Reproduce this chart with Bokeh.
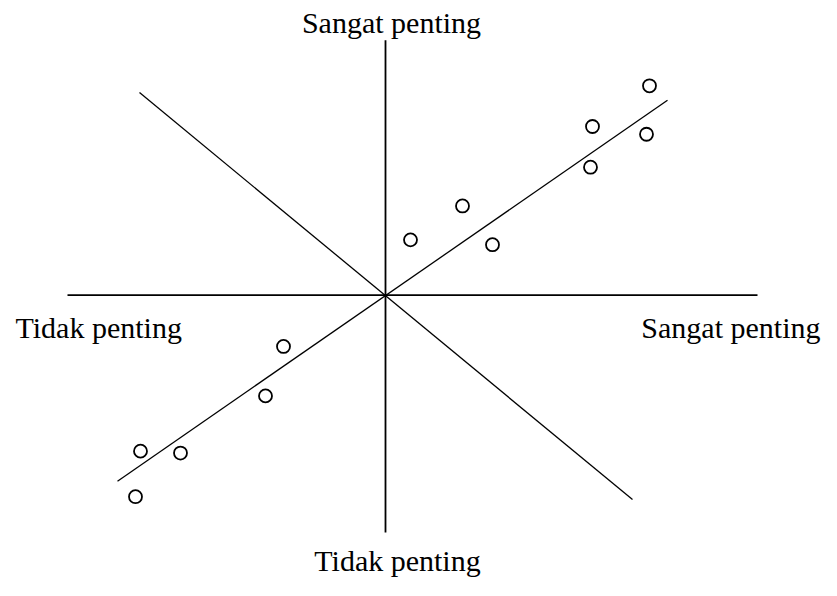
from bokeh.plotting import figure
from bokeh.models import Range1d
from bokeh.embed import file_html
from bokeh.resources import INLINE
from bokeh.core.properties import value

# Data (arbitrary importance units, origin at the crossing of the axes)
pts_x = [26.4, 20.7, 26.1, 20.5, 7.7, 2.5, 10.7, -10.2, -12.0, -24.5, -20.5, -25.0]
pts_y = [21.6, 17.4, 16.6, 13.2, 9.2, 5.7, 5.2, -5.3, -10.4, -16.1, -16.3, -20.8]

fit_x = [-26.8, 28.2]
fit_y = [-19.2, 20.1]

anti_x = [-24.6, 24.7]
anti_y = [20.9, -21.1]

haxis_x = [-31.8, 37.2]
vaxis_y = [-24.5, 26.3]

label_top = "Sangat penting"
label_bottom = "Tidak penting"
label_left = "Tidak penting"
label_right = "Sangat penting"

p = figure(width=821, height=580, output_backend="svg", toolbar_location=None,
           x_range=Range1d(-38.5, 43.6), y_range=Range1d(-29.45, 30.4),
           min_border=0, outline_line_color=None)
p.axis.visible = False
p.grid.visible = False
p.background_fill_color = "white"
p.border_fill_color = "white"

# axes
p.line(haxis_x, [0, 0], line_color="black", line_width=1.8)
p.line([0, 0], vaxis_y, line_color="black", line_width=1.8)
# diagonals
p.line(fit_x, fit_y, line_color="black", line_width=1.3)
p.line(anti_x, anti_y, line_color="black", line_width=1.3)
# points
p.scatter(pts_x, pts_y, size=13, marker="circle", line_color="black",
          line_width=1.8, fill_color="white")

font = value("Liberation Serif")
fs = "30px"
p.text(x=[0.6], y=[28.1], text=[label_top], text_font=font,
       text_font_size=fs, text_align="center", text_baseline="alphabetic")
p.text(x=[1.2], y=[-27.4], text=[label_bottom], text_font=font,
       text_font_size=fs, text_align="center", text_baseline="alphabetic")
p.text(x=[-37.0], y=[-3.3], text=[label_left], text_font=font,
       text_font_size=fs, text_align="left", text_baseline="alphabetic")
p.text(x=[43.5], y=[-3.3], text=[label_right], text_font=font,
       text_font_size=fs, text_align="right", text_baseline="alphabetic")

open("out.html", "w").write(file_html(p, INLINE))
